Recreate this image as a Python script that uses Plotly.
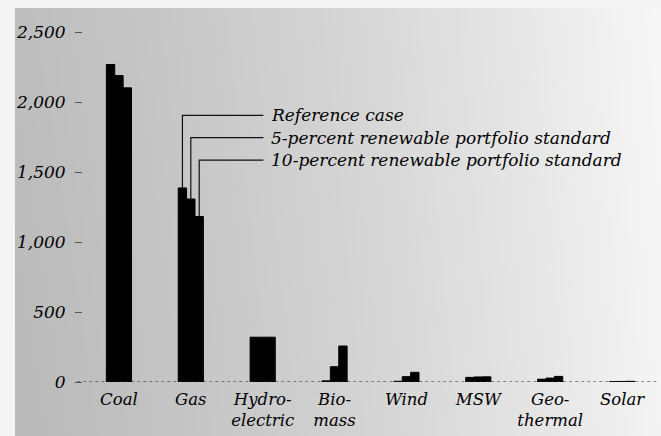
import base64, struct, zlib
import plotly.graph_objects as go

# ---- data ----
categories = ["Coal", "Gas", "Hydro-<br>electric", "Bio-<br>mass", "Wind", "MSW", "Geo-<br>thermal", "Solar"]
series_names = ["Reference case",
                "5-percent renewable portfolio standard",
                "10-percent renewable portfolio standard"]
reference_case = [2268, 1386, 320, 8, 5, 33, 20, 3]
rps_5 = [2189, 1307, 320, 109, 38, 36, 28, 4]
rps_10 = [2101, 1182, 320, 257, 69, 37, 40, 5]
label_levels = [1905, 1745, 1585]
y_ticks = [0, 500, 1000, 1500, 2000, 2500]
y_ticktext = ["0", "500", "1,000", "1,500", "2,000", "2,500"]

all_series = [reference_case, rps_5, rps_10]

# ---- full-page background image: light border + grey gradient (texture approximation) ----
FW, FH = 661, 436
BX, BY = 15, 8
rows = []
for j in range(FH):
    row = bytearray([0])
    yn = (j - BY) / (FH - BY)
    for i in range(FW):
        if i < BX or j < BY:
            row.append(244)
        else:
            xn = (i - BX) / (FW - BX)
            v = 190 + 36 * xn + 22 * xn * xn - 4 * yn
            row.append(max(0, min(255, int(v))))
    rows.append(bytes(row))
raw = b"".join(rows)
def chunk(t, d):
    c = struct.pack(">I", len(d)) + t + d
    return c + struct.pack(">I", zlib.crc32(t + d) & 0xffffffff)
png = b"\x89PNG\r\n\x1a\n" + chunk(b"IHDR", struct.pack(">IIBBBBB", FW, FH, 8, 0, 0, 0, 0)) \
      + chunk(b"IDAT", zlib.compress(raw, 9)) + chunk(b"IEND", b"")
bg_src = "data:image/png;base64," + base64.b64encode(png).decode()

FONT = "DejaVu Serif"
bargap = 0.65
ML, MR, MT, MB = 83, 3, 32, 54
PW, PH = FW - ML - MR, FH - MT - MB

fig = go.Figure()
for name, vals in zip(series_names, all_series):
    fig.add_trace(go.Bar(x=list(range(len(categories))), y=vals, name=name,
                         marker=dict(color="#000000", line=dict(width=1, color="#000000")),
                         showlegend=False))

# leader lines from the Gas bars to the labels
gas_idx = 1
bw = (1 - bargap) / len(all_series)
line_end_x = 2.01
text_x = 2.09
for k, (name, vals, lvl) in enumerate(zip(series_names, all_series, label_levels)):
    xc = gas_idx + (k - 1) * bw
    fig.add_trace(go.Scatter(x=[xc, xc, line_end_x], y=[vals[gas_idx], lvl, lvl],
                             mode="lines", line=dict(color="#111111", width=1.2),
                             hoverinfo="skip", showlegend=False))
    fig.add_annotation(x=text_x, y=lvl, text=name, showarrow=False,
                       xanchor="left", yanchor="middle",
                       font=dict(family=FONT, size=17, color="#000000", style="italic"))

fig.add_shape(type="line", xref="paper", yref="y", x0=-0.01, x1=1, y0=0, y1=0,
              line=dict(color="#222222", width=1, dash="dot"), layer="above")

fig.add_layout_image(source=bg_src, xref="paper", yref="paper",
                     x=-ML / PW, y=1 + MT / PH, sizex=FW / PW, sizey=FH / PH,
                     xanchor="left", yanchor="top", sizing="stretch", layer="below")

fig.update_layout(
    width=FW, height=FH,
    margin=dict(l=ML, r=MR, t=MT, b=MB),
    paper_bgcolor="#f4f4f4", plot_bgcolor="rgba(0,0,0,0)",
    barmode="group", bargap=bargap, bargroupgap=0,
    xaxis=dict(range=[-0.5, 7.5], tickmode="array",
               tickvals=list(range(len(categories))), ticktext=categories,
               showgrid=False, zeroline=False, showline=False, ticks="",
               tickfont=dict(family=FONT, size=16.5, color="#000000", style="italic"),
               ticklabelstandoff=5, automargin=False, fixedrange=True),
    yaxis=dict(range=[0, 2500], tickmode="array", tickvals=y_ticks, ticktext=y_ticktext,
               showgrid=False, zeroline=False, showline=False,
               ticks="outside", ticklen=7, tickcolor="#555555", tickwidth=1,
               tickfont=dict(family=FONT, size=17, color="#000000", style="italic"),
               ticklabelstandoff=6, automargin=False, fixedrange=True),
)

fig.write_html("out.html", config={"displayModeBar": False},
               post_script="document.body.style.margin='0';document.body.style.overflow='hidden';")
